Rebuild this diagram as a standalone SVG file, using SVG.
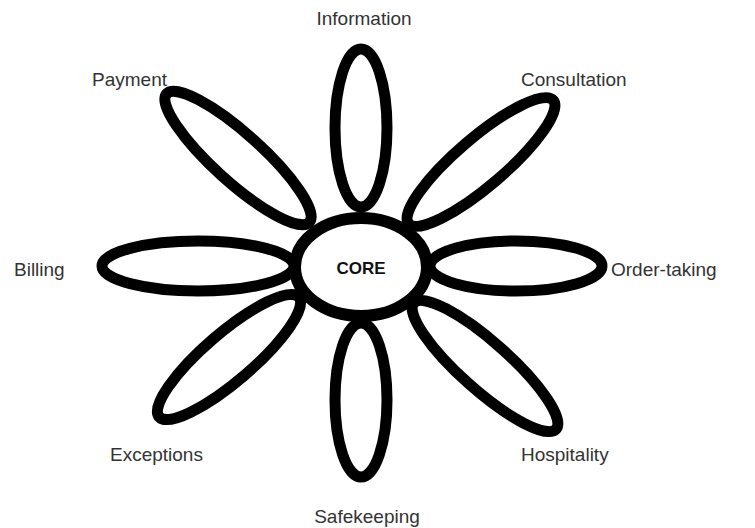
<svg xmlns="http://www.w3.org/2000/svg" width="755" height="528" viewBox="0 0 755 528">
<style>
.petal{fill:#fff;stroke:#000;stroke-width:11}
.core{fill:#fff;stroke:#000;stroke-width:12}
.lbl{font-family:"Liberation Sans",Arial,sans-serif;font-size:19px;fill:#333}
.corelbl{font-family:"Liberation Sans",Arial,sans-serif;font-size:17px;font-weight:bold;fill:#111;text-anchor:middle}
</style>
<rect width="755" height="528" fill="#fff"/>
<g id="petals">
<g id="petal-information"><ellipse class="petal" cx="361" cy="128" rx="26" ry="79"/></g>
<g id="petal-safekeeping"><ellipse class="petal" cx="361" cy="400" rx="26" ry="77"/></g>
<g id="petal-billing"><ellipse class="petal" cx="198" cy="266" rx="96" ry="25"/></g>
<g id="petal-order-taking"><ellipse class="petal" cx="516" cy="266" rx="86" ry="25"/></g>
<g id="petal-payment"><ellipse class="petal" cx="238" cy="158" rx="96" ry="24" transform="rotate(42 238 158)"/></g>
<g id="petal-consultation"><ellipse class="petal" cx="481" cy="162" rx="95" ry="24" transform="rotate(-40.5 481 162)"/></g>
<g id="petal-exceptions"><ellipse class="petal" cx="229" cy="357" rx="92" ry="24" transform="rotate(-40.6 229 357)"/></g>
<g id="petal-hospitality"><ellipse class="petal" cx="485" cy="366" rx="95" ry="24" transform="rotate(41.6 485 366)"/></g>
</g>
<g id="core"><ellipse class="core" cx="361" cy="267" rx="66" ry="49"/><text class="corelbl" x="361" y="274">CORE</text></g>
<g id="labels">
<text class="lbl" x="364" y="25" text-anchor="middle">Information</text>
<text class="lbl" x="92" y="86">Payment</text>
<text class="lbl" x="521" y="86">Consultation</text>
<text class="lbl" x="14" y="276">Billing</text>
<text class="lbl" x="611" y="276">Order-taking</text>
<text class="lbl" x="110" y="461">Exceptions</text>
<text class="lbl" x="521" y="461">Hospitality</text>
<text class="lbl" x="367" y="523" text-anchor="middle">Safekeeping</text>
</g>
</svg>
